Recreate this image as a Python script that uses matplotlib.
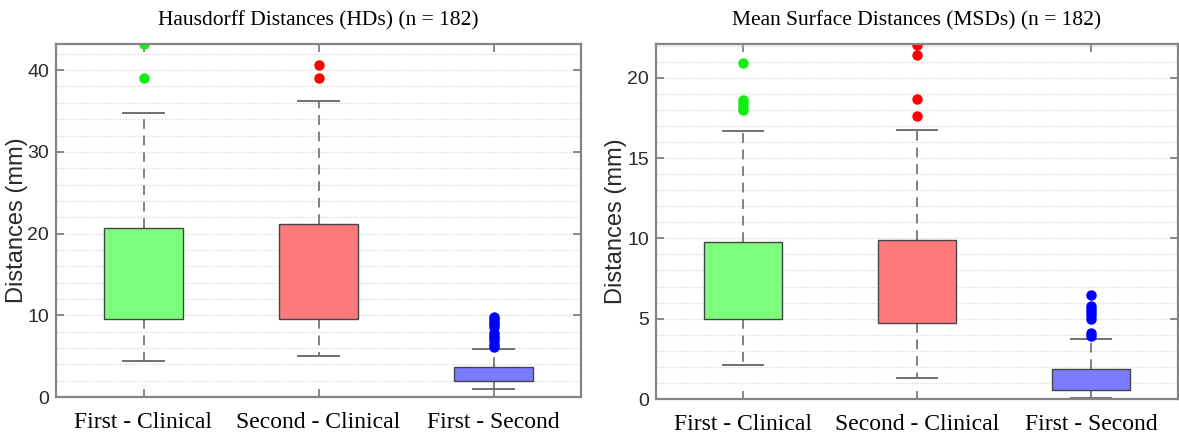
import matplotlib.pyplot as plt
from matplotlib.ticker import MultipleLocator

# --- DATA ---
groups = ['First - Clinical', 'Second - Clinical', 'First - Second']
box_fill = ['#7dff7d', '#ff7b7b', '#7b7bff']
flier_col = ['#11ee11', '#ff0000', '#0000ff']

# Hausdorff distances (mm)
hd_med = [14.3, 15.1, 2.8]
hd_q1 = [9.5, 9.5, 2.0]
hd_q3 = [20.7, 21.2, 3.7]
hd_lo = [4.4, 5.0, 1.0]
hd_hi = [34.8, 36.2, 5.9]
hd_out = [[43.2, 39.0],
          [40.6, 39.0],
          [6.1, 6.4, 6.8, 7.2, 7.5, 7.8, 8.6, 8.9, 9.2, 9.5, 9.8]]

# Mean surface distances (mm)
msd_med = [6.85, 7.0, 0.95]
msd_q1 = [4.95, 4.75, 0.55]
msd_q3 = [9.75, 9.9, 1.85]
msd_lo = [2.1, 1.3, 0.05]
msd_hi = [16.7, 16.75, 3.75]
msd_out = [[20.9, 18.6, 18.4, 18.2, 18.0],
           [22.05, 21.4, 18.7, 17.6],
           [6.45, 5.8, 5.6, 5.4, 5.2, 5.0, 4.1, 3.9]]


def make_stats(med, q1, q3, lo, hi, out):
    return [dict(med=med[i], q1=q1[i], q3=q3[i], whislo=lo[i], whishi=hi[i],
                 fliers=out[i], label=groups[i]) for i in range(len(groups))]


def draw_panel(ax, stats, title, ymax, major, minor):
    bp = ax.bxp(stats, positions=[1, 2, 3], widths=0.45, patch_artist=True,
                showfliers=True, manage_ticks=False,
                boxprops=dict(edgecolor='#454545', linewidth=1.0),
                whiskerprops=dict(color='#808080', linewidth=1.4, linestyle=(0, (5, 3.5))),
                capprops=dict(color='#707070', linewidth=1.4),
                medianprops=dict(color='#303030', linewidth=1.0, alpha=0.55),
                capwidths=0.23)
    for i, b in enumerate(bp['boxes']):
        b.set_facecolor(box_fill[i])
        b.set_zorder(3)
    for i, f in enumerate(bp['fliers']):
        f.set(marker='o', markersize=6.5, markerfacecolor=flier_col[i],
              markeredgecolor=flier_col[i], linestyle='none', clip_on=True)
    ax.set_xlim(0.5, 3.5)
    ax.set_ylim(0, ymax)
    ax.set_xticks([1, 2, 3])
    ax.set_xticklabels(groups, fontfamily='Liberation Serif', fontsize=17)
    ax.yaxis.set_major_locator(MultipleLocator(major))
    ax.yaxis.set_minor_locator(MultipleLocator(minor))
    ax.grid(True, which='both', axis='y', color='#dcdcdc', linestyle=(0, (1.2, 1.2)), linewidth=0.9)
    ax.set_axisbelow(True)
    ax.tick_params(axis='both', which='major', direction='in', length=6, width=1.3,
                   color='#808080', top=True, right=True)
    ax.tick_params(axis='y', which='minor', length=0)
    ax.tick_params(axis='x', pad=11)
    ax.tick_params(axis='y', pad=5, labelsize=14, labelcolor='#2a2a2a')
    for lbl in ax.get_yticklabels():
        lbl.set_fontfamily(['Liberation Sans Narrow', 'Liberation Sans'])
    for s in ax.spines.values():
        s.set_color('#858585')
        s.set_linewidth(1.6)
    ax.set_title(title, fontfamily='Liberation Serif', fontsize=15.5, pad=13)
    ax.set_ylabel('Distances (mm)', fontfamily='Liberation Sans', fontsize=17,
                  color='#2a2a2a')


fig = plt.figure(figsize=(11.79, 4.38), dpi=100)
ax1 = fig.add_axes([56 / 1179, 41 / 438, 525 / 1179, 353 / 438])
ax2 = fig.add_axes([656 / 1179, 39 / 438, 522 / 1179, 355 / 438])

draw_panel(ax1, make_stats(hd_med, hd_q1, hd_q3, hd_lo, hd_hi, hd_out),
           'Hausdorff Distances (HDs) (n = 182)', 43.2, 10, 2)
draw_panel(ax2, make_stats(msd_med, msd_q1, msd_q3, msd_lo, msd_hi, msd_out),
           'Mean Surface Distances (MSDs) (n = 182)', 22.1, 5, 1)

# y labels placed where the reference has them (label's right edge ~28 px left of each panel)
ax1.yaxis.set_label_coords((28 - 56) / 525, 0.5)
ax2.yaxis.set_label_coords((627 - 656) / 522, 0.5)

plt.savefig('out.png', dpi=100)
